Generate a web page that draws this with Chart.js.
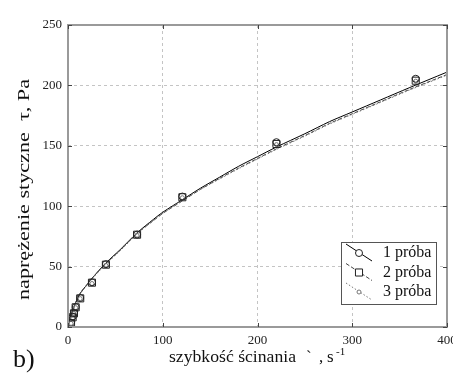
<!DOCTYPE html>
<html>
<head>
<meta charset="utf-8">
<script src="https://cdn.jsdelivr.net/npm/chart.js@4.4.1/dist/chart.umd.min.js"></script>
<style>
  html, body { margin: 0; padding: 0; background: #fff; }
  #wrap { width: 453px; height: 378px; }
</style>
</head>
<body>
<div id="wrap"><canvas id="chart" width="453" height="378"></canvas></div>
<script>
// fitted curves
var fitX  = [0.5, 2, 3, 5, 8, 13, 20, 25, 40, 55, 73, 90, 100, 120, 140, 160, 180, 200, 220, 250, 276, 300, 330, 360, 400];
var fit1 = [2, 7, 9, 14, 20, 28, 35, 40, 53, 64, 78, 89, 95, 105, 115, 124, 133, 141, 149, 160, 170, 178, 188, 198, 211];
var fit2 = [2, 7, 9, 14, 20, 28, 35, 40, 52.5, 63.5, 77.5, 88, 94, 104, 114, 123, 131.5, 139.5, 147.5, 158.5, 168.5, 176.5, 186.5, 196.5, 209];
var fit3 = [2, 6.5, 8.5, 13.5, 19.5, 27.5, 34.5, 39.5, 52, 63, 77, 88, 94, 104.5, 114, 122.5, 131, 139, 147, 158, 168, 176, 186, 196, 208.5];

// measured points
var measX = [3.2, 4.9, 6.3, 8.1, 12.9, 25.3, 40, 72.9, 120.7, 220, 367];
var meas1 = [3.5, 8.5, 11.5, 16.5, 24, 37, 52, 76.5, 108, 153, 205.5];
var meas2 = [3, 8, 11.3, 16.3, 23.7, 36.7, 51.6, 76.4, 107.4, 151.5, 203.9];
var meas3 = [3, 7.5, 11, 16, 23.5, 36, 51, 76, 107, 151, 203.5];

var seriesNames = ['1 próba', '2 próba', '3 próba'];
var xTicks = [0, 100, 200, 300, 400];
var yTicks = [0, 50, 100, 150, 200, 250];

var serif = "'Liberation Serif'";

function pts(xs, ys) {
    var arr = [];
    for (var i = 0; i < xs.length; i++) arr.push({x: xs[i], y: ys[i]});
    return arr;
}

// text squeezed/stretched to a given width (the scan is stretched)
function fitText(c, txt, x, y, width) {
    var w = c.measureText(txt).width;
    c.save();
    c.translate(x, y);
    c.scale(width / w, 1);
    c.fillText(txt, 0, 0);
    c.restore();
}

// frame, inward ticks, axis titles, legend
var decor = {
    id: 'decor',
    afterDraw: function (chart) {
        var c = chart.ctx, a = chart.chartArea;
        var sx = chart.scales.x, sy = chart.scales.y;
        c.save();
        c.strokeStyle = '#9a9a9a';
        c.lineWidth = 2;
        c.strokeRect(a.left, a.top, a.right - a.left, a.bottom - a.top);

        c.strokeStyle = '#444';
        c.lineWidth = 1;
        c.beginPath();
        xTicks.forEach(function (v) {
            var px = Math.round(sx.getPixelForValue(v)) + 0.5;
            c.moveTo(px, a.top); c.lineTo(px, a.top + 4);
            c.moveTo(px, a.bottom); c.lineTo(px, a.bottom - 4);
        });
        yTicks.forEach(function (v) {
            var py = Math.round(sy.getPixelForValue(v)) + 0.5;
            c.moveTo(a.left, py); c.lineTo(a.left + 4, py);
            c.moveTo(a.right, py); c.lineTo(a.right - 4, py);
        });
        c.stroke();

        c.fillStyle = '#111';
        c.textAlign = 'left';

        // y title, runs from y=300 up to y=79
        c.font = '16px ' + serif;
        c.textBaseline = 'middle';
        c.save();
        c.translate(25, 300);
        c.rotate(-Math.PI / 2);
        fitText(c, 'naprężenie styczne  τ, Pa', 0, 0, 221);
        c.restore();

        // x title with superscript
        c.textBaseline = 'alphabetic';
        c.font = '17px ' + serif;
        fitText(c, 'szybkość ścinania', 169, 362, 127);
        c.fillText('`', 306, 362);
        c.fillText(',', 319, 362);
        c.fillText('s', 327, 362);
        c.font = '11px ' + serif;
        c.fillText('-1', 336, 355);

        // panel letter
        c.font = '26px ' + serif;
        c.fillText('b)', 13, 367);

        // legend
        var bx = 341, by = 242, bw = 95, bh = 62;
        c.fillStyle = '#fff';
        c.fillRect(bx, by, bw, bh);
        c.strokeStyle = '#555';
        c.lineWidth = 1;
        c.strokeRect(bx + 0.5, by + 0.5, bw, bh);
        var rows = [253, 272.5, 292];
        var ds = chart.data.datasets;
        for (var i = 0; i < 3; i++) {
            var d = ds[i], m = ds[i + 3];
            var cy = rows[i];
            c.save();
            c.strokeStyle = d.borderColor;
            c.lineWidth = d.borderWidth;
            c.setLineDash(d.borderDash || []);
            c.beginPath();
            c.moveTo(346, cy - 9);
            c.lineTo(372, cy + 8);
            c.stroke();
            c.restore();
            c.save();
            c.strokeStyle = m.pointBorderColor;
            c.lineWidth = m.pointBorderWidth;
            c.fillStyle = '#fff';
            c.beginPath();
            if (m.pointStyle === 'rect') {
                var s = m.pointRadius * Math.SQRT1_2;
                c.rect(359 - s, cy - s, 2 * s, 2 * s);
            } else {
                c.arc(359, cy, m.pointRadius, 0, Math.PI * 2);
            }
            c.fill();
            c.stroke();
            c.restore();
            c.fillStyle = '#111';
            c.font = '16px ' + serif;
            c.textBaseline = 'middle';
            c.fillText(seriesNames[i], 383, cy);
        }
        c.restore();
    }
};

var ctx = document.getElementById('chart');
var chart = new Chart(ctx, {
    type: 'scatter',
    data: {
        datasets: [
            {label: seriesNames[0], data: pts(fitX, fit1), showLine: true, pointRadius: 0,
             borderColor: '#000', borderWidth: 1, tension: 0.3, order: 3},
            {label: seriesNames[1], data: pts(fitX, fit2), showLine: true, pointRadius: 0,
             borderColor: '#444', borderWidth: 1, borderDash: [4, 2], tension: 0.3, order: 2},
            {label: seriesNames[2], data: pts(fitX, fit3), showLine: true, pointRadius: 0,
             borderColor: '#777', borderWidth: 1, borderDash: [1.5, 2], tension: 0.3, order: 1},
            {label: seriesNames[0], data: pts(measX, meas1), showLine: false, pointStyle: 'circle',
             pointRadius: 3.5, pointBorderWidth: 1, pointBorderColor: '#222', pointBackgroundColor: 'rgba(0,0,0,0)', order: 0},
            {label: seriesNames[1], data: pts(measX, meas2), showLine: false, pointStyle: 'rect',
             pointRadius: 5, pointBorderWidth: 1, pointBorderColor: '#222', pointBackgroundColor: 'rgba(0,0,0,0)', order: 0},
            {label: seriesNames[2], data: pts(measX, meas3), showLine: false, pointStyle: 'circle',
             pointRadius: 2, pointBorderWidth: 1, pointBorderColor: '#777', pointBackgroundColor: 'rgba(0,0,0,0)', order: 0}
        ]
    },
    options: {
        responsive: false,
        animation: false,
        events: [],
        layout: {padding: {left: 0, top: 25, right: 4, bottom: 0}},
        plugins: {
            legend: {display: false},
            tooltip: {enabled: false}
        },
        scales: {
            x: {
                type: 'linear', min: 0, max: 400,
                afterFit: function (s) { s.height = 51; s.paddingLeft = 0; s.paddingRight = 0; },
                afterBuildTicks: function (s) { s.ticks = xTicks.map(function (v) { return {value: v}; }); },
                grid: {color: '#c4c4c4', lineWidth: 1, drawTicks: false},
                border: {display: false, dash: [3, 3]},
                ticks: {padding: 6, color: '#222', font: {family: serif, size: 13}, maxRotation: 0}
            },
            y: {
                type: 'linear', min: 0, max: 250,
                afterFit: function (s) { s.width = 68; s.paddingTop = 0; s.paddingBottom = 0; },
                afterBuildTicks: function (s) { s.ticks = yTicks.map(function (v) { return {value: v}; }); },
                grid: {color: '#c4c4c4', lineWidth: 1, drawTicks: false},
                border: {display: false, dash: [3, 3]},
                ticks: {padding: 6, color: '#222', font: {family: serif, size: 13}}
            }
        }
    },
    plugins: [decor]
});
</script>
</body>
</html>
